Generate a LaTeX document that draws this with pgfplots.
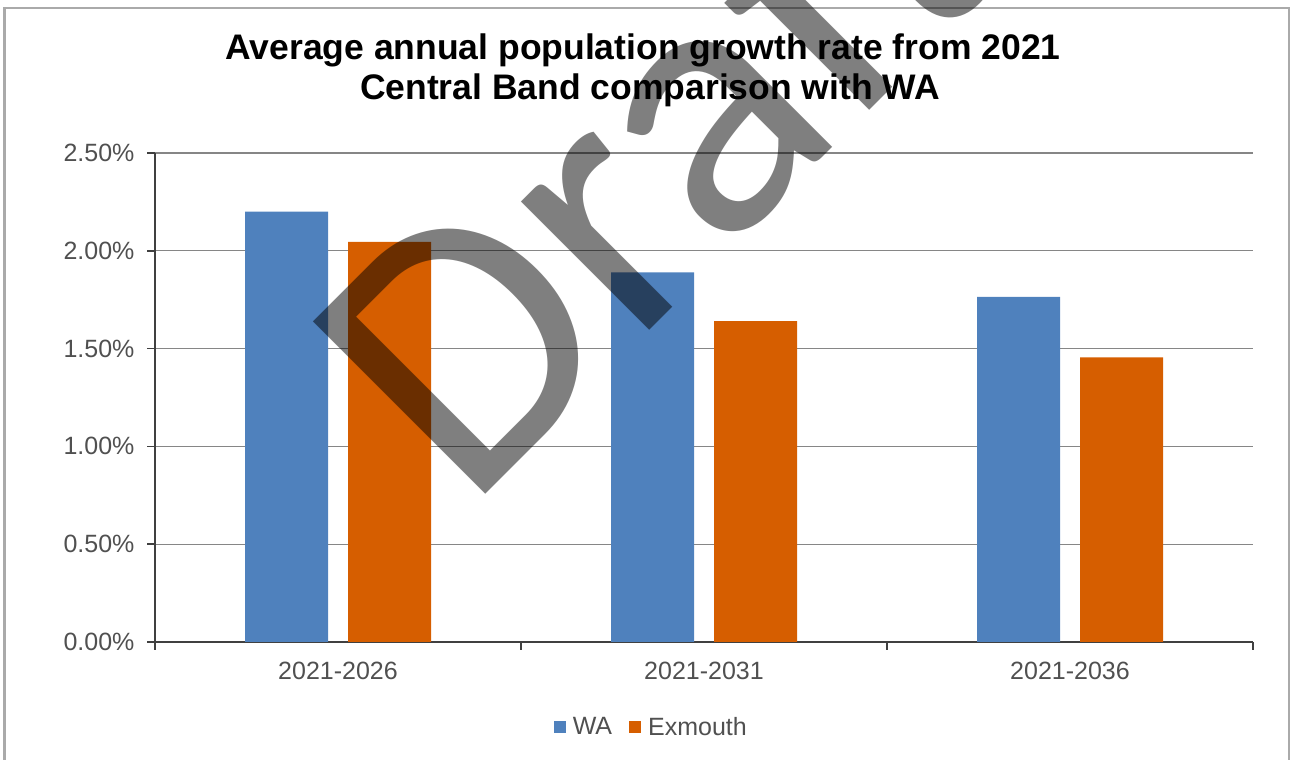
\documentclass[border=0pt]{standalone}
\usepackage{pgfplots}
\pgfplotsset{compat=1.18}
\usepackage{fontspec}
\setmainfont{Liberation Sans}
\newfontfamily\wmfont{Carlito}
\definecolor{wablue}{RGB}{79,129,189}
\definecolor{exorange}{RGB}{214,94,0}
\definecolor{gridgray}{RGB}{134,134,134}
\definecolor{axisgray}{RGB}{64,64,64}
\definecolor{labelgray}{RGB}{80,80,80}
\definecolor{framegray}{RGB}{170,170,170}
\begin{document}
\begin{tikzpicture}[x=1bp,y=1bp]
\useasboundingbox (0,0) rectangle (1290,760);
\draw[color=framegray, line width=2bp] (4.5,-2) -- (4.5,751.5) -- (1288.5,751.5) -- (1288.5,-2);
\node[anchor=base, font=\bfseries\fontsize{35.5bp}{40bp}\selectfont] at (643,700) {Average annual population growth rate from 2021};
\node[anchor=base, font=\bfseries\fontsize{35.5bp}{40bp}\selectfont] at (650,660) {Central Band comparison with WA};
\begin{axis}[
  at={(155bp,118bp)}, anchor=south west,
  scale only axis, width=1098bp, height=489bp,
  ybar=20bp, bar width=83bp,
  xmin=-0.5, xmax=2.5, ymin=0, ymax=2.5,
  xtick={-0.5,0.5,1.5,2.5}, xticklabels={},
  extra x ticks={0,1,2}, extra x tick labels={2021-2026,2021-2031,2021-2036},
  extra x tick style={tick style={draw=none}},
  ytick={0,0.5,1,1.5,2,2.5},
  yticklabel={\pgfmathprintnumber[fixed,fixed zerofill,precision=2,assume math mode=true]{\tick}\%},
  axis x line*=bottom, axis y line*=left,
  axis line style={color=axisgray, line width=2bp, -},
  tick align=outside, major tick length=8bp,
  tick style={color=axisgray, line width=1.5bp},
  ymajorgrids, major grid style={color=gridgray, line width=1.3bp},
  ticklabel style={font=\fontsize{25bp}{30bp}\selectfont, text=labelgray},
  xticklabel style={yshift=-9bp},
  yticklabel style={xshift=-9bp},
  legend style={at={(0.452,-0.174)}, anchor=center, draw=none, legend columns=2,
    font=\fontsize{25bp}{30bp}\selectfont, text=labelgray,
    /tikz/every even column/.append style={column sep=15bp}},
  legend image code/.code={\fill[#1] (0bp,-6bp) rectangle (12bp,6bp); \path (17bp,0bp);},
]
\addplot[fill=wablue, draw=none] coordinates {(0,2.20) (1,1.89) (2,1.765)};
\addplot[fill=exorange, draw=none] coordinates {(0,2.045) (1,1.64) (2,1.455)};
\legend{WA,Exmouth}
\end{axis}
\begin{scope}
\clip (0,0) rectangle (1290,760);
\node[rotate=45, anchor=base west, text=black, text opacity=0.5, inner sep=0pt,
  font=\wmfont\fontsize{380bp}{380bp}\selectfont] at (467,247) {Draft};
\end{scope}
\end{tikzpicture}
\end{document}
